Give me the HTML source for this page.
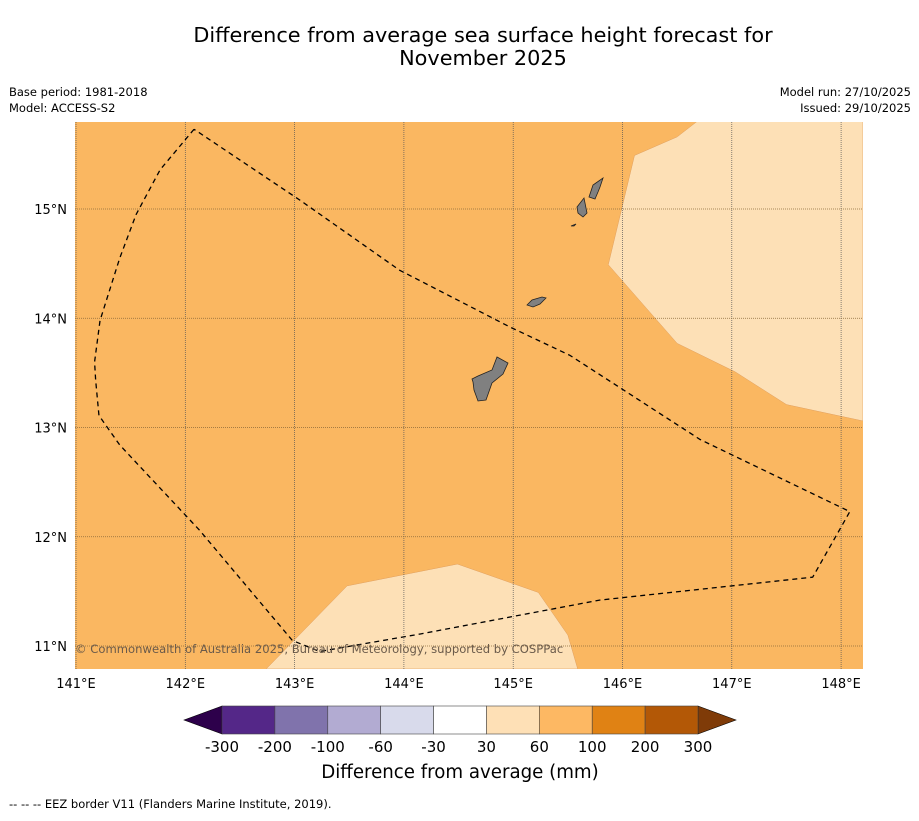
<!DOCTYPE html>
<html><head><meta charset="utf-8"><style>
body{margin:0;background:#fff;font-family:"Liberation Sans","DejaVu Sans",sans-serif}
</style></head><body>
<svg id="s" width="919" height="816" xmlns="http://www.w3.org/2000/svg" font-family="DejaVu Sans, Liberation Sans, sans-serif">
<rect width="919" height="816" fill="#fff"/>
<text x="483" y="42" font-size="20.8" text-anchor="middle">Difference from average sea surface height forecast for</text>
<text x="483" y="65" font-size="20.8" text-anchor="middle">November 2025</text>
<text x="9" y="96" font-size="11.5">Base period: 1981-2018</text>
<text x="9" y="112" font-size="11.5">Model: ACCESS-S2</text>
<text x="911" y="96" font-size="11.5" text-anchor="end">Model run: 27/10/2025</text>
<text x="911" y="112" font-size="11.5" text-anchor="end">Issued: 29/10/2025</text>
<g id="map"></g>
<g id="cb"></g>
<text x="460" y="778" font-size="18.2" text-anchor="middle">Difference from average (mm)</text>
<text x="9" y="808" font-size="11.5">--  --  -- EEZ border V11 (Flanders Marine Institute, 2019).</text>
</svg>
<script>
const lonTicks=[141,142,143,144,145,146,147,148];
const latTicks=[11,12,13,14,15];
const lightNE=[[146.68,15.80],[146.50,15.66],[146.11,15.49],[145.87,14.49],[146.50,13.77],[147.03,13.51],[147.50,13.21],[148.20,13.06],[148.20,15.80]];
const lightS=[[142.74,10.79],[143.48,11.55],[144.49,11.75],[145.23,11.49],[145.50,11.10],[145.59,10.79]];
const eez=[[142.08,15.73],[141.77,15.36],[141.55,14.95],[141.40,14.55],[141.22,13.98],[141.17,13.60],[141.18,13.43],[141.21,13.11],[141.40,12.84],[142.13,12.06],[142.98,11.05],[143.23,10.95],[144.15,11.11],[145.79,11.42],[147.74,11.63],[148.08,12.23],[146.71,12.89],[145.52,13.66],[144.97,13.92],[143.96,14.44],[143.05,15.08],[142.08,15.73]];
const cbLabels=["-300","-200","-100","-60","-30","30","60","100","200","300"];
const cbColors=["#542788","#8073ac","#b2abd2","#d8daeb","#ffffff","#fee0b6","#fdb863","#e08214","#b35806"];
const NS="http://www.w3.org/2000/svg";
const X=l=>76+(l-141)*109.3, Y=l=>209-(l-15)*109.25;
function mk(p,t,a){const e=document.createElementNS(NS,t);for(const k in a)e.setAttribute(k,a[k]);p.appendChild(e);return e;}
const m=document.getElementById('map');
const defs=mk(m,'defs',{});const cp=mk(defs,'clipPath',{id:'c'});mk(cp,'rect',{x:75,y:122,width:788,height:547});
const g=mk(m,'g',{'clip-path':'url(#c)'});
let r=mk(g,'rect',{x:75,y:122,width:788,height:547,fill:'#fab761'});


const pts=a=>a.map(p=>X(p[0])+','+Y(p[1])).join(' ');
let p1=mk(g,'polygon',{points:pts(lightNE),fill:'#fde0b6',stroke:'#e0a060','stroke-width':0.5});


let p2=mk(g,'polygon',{points:pts(lightS),fill:'#fde0b6',stroke:'#e0a060','stroke-width':0.5});


lonTicks.forEach(l=>{let e=mk(g,'line',{x1:X(l),x2:X(l),y1:122,y2:669,stroke:'#555','stroke-width':0.7,'stroke-dasharray':'1,1'});


let t=mk(m,'text',{x:X(l),y:688,'font-size':13,'text-anchor':'middle'});t.textContent=l+'°E';

});
latTicks.forEach(l=>{let e=mk(g,'line',{x1:75,x2:863,y1:Y(l),y2:Y(l),stroke:'#8a6a3a','stroke-width':0.7,'stroke-dasharray':'1,1'});


let t=mk(m,'text',{x:67,y:Y(l)+5,'font-size':13,'text-anchor':'end'});t.textContent=l+'°N';

});
const isl=["472,379 478,376 492,370 497,357 508,363 503,374 492,383 486,400 478,401 474,390 473,382","527,305 532,300 542,297 546,298 540,304 533,307","577,207 584,198 587,213 583,217 578,213","589,197 593,185 603,178 600,187 598,192 595,199","571,226 576,224 574,226"];
isl.forEach(s=>{let e=mk(g,'polygon',{points:s,fill:'#808080',stroke:'#222','stroke-width':0.8});

});
let ez=mk(g,'polyline',{points:pts(eez),fill:'none',stroke:'#000','stroke-width':1.3,'stroke-dasharray':'5,4'});


let ct=mk(m,'text',{x:75,y:653,'font-size':11.6,fill:'#6a5a4a'});ct.textContent='© Commonwealth of Australia 2025, Bureau of Meteorology, supported by COSPPac';


const cb=document.getElementById('cb');
const x0=222,x1=698,w=(x1-x0)/cbColors.length,y0=706,y1=734;
let la=mk(cb,'polygon',{points:`184,720 ${x0},${y0} ${x0},${y1}`,fill:'#2d004b',stroke:'#000','stroke-width':0.6});


let ra=mk(cb,'polygon',{points:`736,720 ${x1},${y0} ${x1},${y1}`,fill:'#7f3b08',stroke:'#000','stroke-width':0.6});


cbColors.forEach((c,i)=>{let e=mk(cb,'rect',{x:x0+i*w,y:y0,width:w,height:y1-y0,fill:c,stroke:'#444','stroke-width':0.6});

});
cbLabels.forEach((s,i)=>{let t=mk(cb,'text',{x:x0+i*w,y:752,'font-size':15,'text-anchor':'middle'});t.textContent=s;

});
</script>
</body></html>
